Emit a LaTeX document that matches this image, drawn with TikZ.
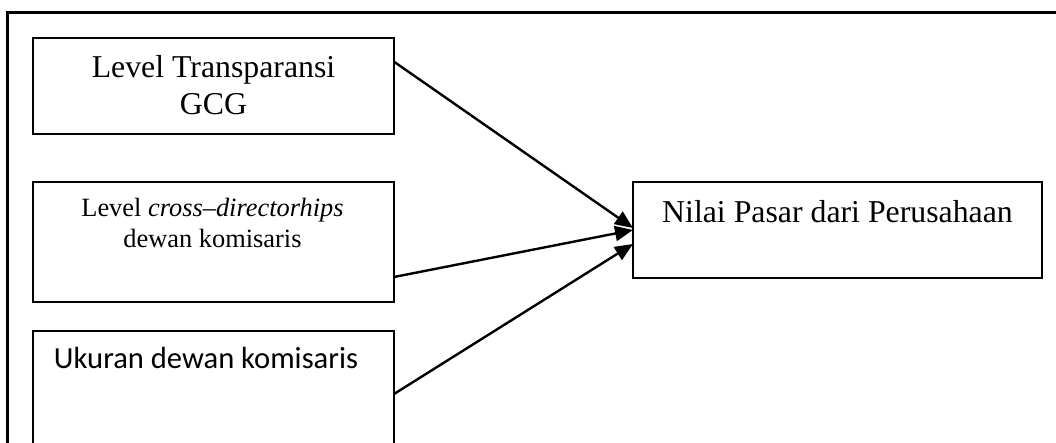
\documentclass[tikz,border=0pt]{standalone}
\usepackage{fontspec}
\setmainfont{Liberation Serif}
\newfontfamily\calibrifont{Carlito}
\usetikzlibrary{arrows.meta,calc}
\begin{document}
\begin{tikzpicture}[x=1pt,y=-1pt,
  box/.style={draw,line width=2pt,inner sep=0pt,outer sep=0pt},
  conn/.style={line width=2.4pt,-{Triangle[length=18pt,width=15pt]}},
  txt/.style={anchor=base,inner sep=0pt,align=center}]
\useasboundingbox (0,0) rectangle (1056,443);
\clip (0,0) rectangle (1056,443);
\fill[white] (0,0) rectangle (1056,443);
% outer frame
\draw[line width=3pt] (7,470) -- (7,12.7) -- (1070,12.7);
% boxes
\node[box,minimum width=361pt,minimum height=96pt] (b1) at (213.5,86) {};
\node[box,minimum width=361pt,minimum height=120pt] (b2) at (213.5,242) {};
\node[box,minimum width=361pt,minimum height=139pt] (b3) at (213.5,400.5) {};
\node[box,minimum width=409pt,minimum height=96pt] (tg) at (837.5,230) {};
% texts (base anchor = baseline of the last line)
\node[txt,font=\fontsize{31.8pt}{37pt}\selectfont] (t1) at (213.5,115) {Level Transparansi\\GCG};
\node[txt,font=\fontsize{26.4pt}{31pt}\selectfont] (t2) at (212.5,248) {Level \textit{cross--directorhips}\\dewan komisaris};
\node[txt,font=\calibrifont\fontsize{30.6pt}{36pt}\selectfont] (t3) at (206,368) {Ukuran dewan komisaris};
\node[txt,font=\fontsize{31.8pt}{38pt}\selectfont] (t4) at (837.5,222.7) {Nilai Pasar dari Perusahaan};
% connectors
\coordinate (s1) at ($(b1.north east)+(0,23.7)$);
\coordinate (s2) at ($(b2.north east)+(0,95)$);
\coordinate (s3) at ($(b3.north east)+(0,63)$);
\coordinate (e1) at ($(tg.west)+(0,-2)$);
\coordinate (e3) at ($(tg.west)+(0,14)$);
\draw[conn] (s1) -- (e1);
\draw[conn] (s2) -- (tg.west);
\draw[conn] (s3) -- (e3);
\end{tikzpicture}
\end{document}
